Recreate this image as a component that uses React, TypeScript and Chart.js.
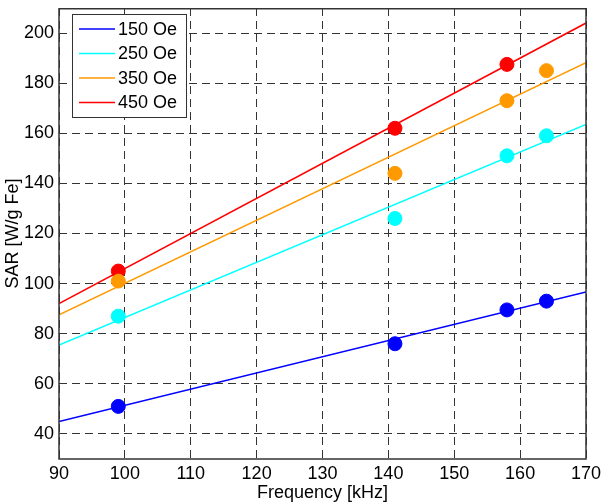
import React, { useEffect, useRef } from "react";
import { Chart, registerables } from "chart.js";

Chart.register(...registerables);

const freqs150 = [99, 141, 158, 164];
const sar150 = [51, 76, 89.5, 93];
const freqs250 = [99, 141, 158, 164];
const sar250 = [87, 126, 151, 159];
const freqs350 = [99, 141, 158, 164];
const sar350 = [101, 144, 173, 185];
const freqs450 = [99, 141, 158];
const sar450 = [105, 162, 187.5];

const fitX = [90, 170];
const fit150 = [45, 96.7];
const fit250 = [75.5, 163.5];
const fit350 = [87.5, 188.2];
const fit450 = [92, 204];

const labels = ["150 Oe", "250 Oe", "350 Oe", "450 Oe"];
const colors = ["#0000ff", "#00ffff", "#ff9900", "#ff0000"];

const xTicks = [90, 100, 110, 120, 130, 140, 150, 160, 170];
const yTicks = [40, 60, 80, 100, 120, 140, 160, 180, 200];

const FONT = "'Liberation Sans', Arial, sans-serif";
const FS = 18;

const pts = (xs: number[], ys: number[]) => xs.map((x, i) => ({ x, y: ys[i] }));

export default function App() {
  const ref = useRef<HTMLCanvasElement>(null);
  useEffect(() => {
    document.body.style.margin = "0";
    const fits = [fit150, fit250, fit350, fit450];
    const scat = [
      pts(freqs150, sar150),
      pts(freqs250, sar250),
      pts(freqs350, sar350),
      pts(freqs450, sar450),
    ];
    const datasets: any[] = [];
    fits.forEach((f, i) => {
      datasets.push({
        type: "line",
        label: labels[i],
        data: pts(fitX, f),
        borderColor: colors[i],
        borderWidth: 1.5,
        pointRadius: 0,
        fill: false,
      });
    });
    scat.forEach((d, i) => {
      datasets.push({
        type: "scatter",
        label: labels[i] + " data",
        data: d,
        backgroundColor: colors[i],
        borderColor: colors[i],
        pointRadius: 7,
        showLine: false,
      });
    });

    const frame = {
      id: "frame",
      afterDatasetsDraw(chart: any) {
        const { ctx, chartArea: a } = chart;
        ctx.save();
        ctx.strokeStyle = "#333";
        ctx.lineWidth = 1.5;
        ctx.strokeRect(a.left, a.top + 0.75, a.right - a.left, a.bottom - a.top - 0.75);
        // legend
        const lx = 72, ly = 14, lw = 114, lh = 103;
        ctx.fillStyle = "#fff";
        ctx.fillRect(lx, ly, lw, lh);
        ctx.strokeStyle = "#333";
        ctx.lineWidth = 1;
        ctx.strokeRect(lx + 0.5, ly + 0.5, lw, lh);
        ctx.font = FS + "px " + FONT;
        ctx.textBaseline = "middle";
        ctx.textAlign = "left";
        labels.forEach((l, i) => {
          const y = 29 + i * 24.5;
          ctx.strokeStyle = colors[i];
          ctx.lineWidth = 1.5;
          ctx.beginPath();
          ctx.moveTo(79, y);
          ctx.lineTo(115, y);
          ctx.stroke();
          ctx.fillStyle = "#000";
          ctx.fillText(l, 118, y + 1);
        });
        ctx.restore();
      },
    };

    const chart = new Chart(ref.current!, {
      type: "scatter",
      data: { datasets },
      plugins: [frame],
      options: {
        animation: false,
        responsive: false,
        layout: { padding: { top: 0, right: 15, left: 0, bottom: 0 } },
        plugins: { legend: { display: false }, tooltip: { enabled: false } },
        scales: {
          x: {
            type: "linear",
            min: 90,
            max: 170,
            afterBuildTicks: (s: any) => { s.ticks = xTicks.map((v) => ({ value: v })); },
            afterFit: (s: any) => { s.height = 45; s.paddingLeft = 0; s.paddingRight = 0; },
            grid: { color: "#333", lineWidth: 1, tickLength: 0, drawTicks: false },
            border: { display: false, dash: [8, 5] } as any,
            ticks: { color: "#000", font: { size: FS, family: FONT }, padding: 4, maxRotation: 0 },
            title: { display: true, text: "Frequency [kHz]", color: "#000", font: { size: FS, family: FONT }, padding: { top: 0, bottom: 0 } },
          },
          y: {
            type: "linear",
            min: 30,
            max: 210,
            afterBuildTicks: (s: any) => { s.ticks = yTicks.map((v) => ({ value: v })); },
            afterFit: (s: any) => { s.width = 59; s.paddingTop = 0; s.paddingBottom = 0; },
            grid: { color: "#333", lineWidth: 1, drawTicks: false, tickLength: 0 },
            border: { display: false, dash: [8, 5] } as any,
            ticks: { color: "#000", font: { size: FS, family: FONT }, padding: 5 },
            title: { display: true, text: "SAR [W/g Fe]", color: "#000", font: { size: FS, family: FONT }, padding: { top: 2, bottom: 0 } },
          },
        },
      } as any,
    });
    return () => chart.destroy();
  }, []);
  return <canvas ref={ref} width={601} height={504} style={{ display: "block" }} />;
}
